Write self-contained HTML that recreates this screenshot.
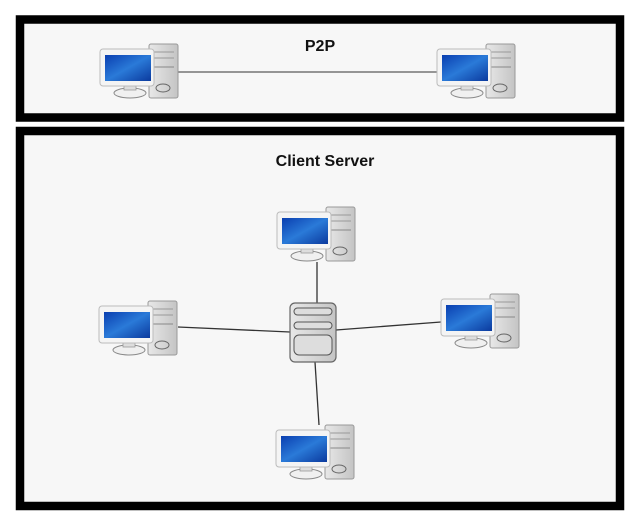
<!DOCTYPE html>
<html><head><style>
html,body{margin:0;padding:0;background:#fff;width:640px;height:526px;overflow:hidden}
</style></head><body>
<svg width="640" height="526" xmlns="http://www.w3.org/2000/svg">
<defs>
<linearGradient id="scr" x1="0" y1="0" x2="1" y2="1">
<stop offset="0" stop-color="#0a3fb0"/><stop offset="0.5" stop-color="#2a7ad8"/><stop offset="1" stop-color="#0b3a9e"/>
</linearGradient>
<linearGradient id="tw" x1="0" y1="0" x2="1" y2="0">
<stop offset="0" stop-color="#e8e8e8"/><stop offset="1" stop-color="#c4c4c4"/>
</linearGradient>
<g id="pc">
<rect x="49" y="0" width="29" height="54" rx="2" fill="url(#tw)" stroke="#999" stroke-width="1"/>
<line x1="53" y1="8" x2="74" y2="8" stroke="#999"/>
<line x1="53" y1="14" x2="74" y2="14" stroke="#999"/>
<line x1="53" y1="23" x2="74" y2="23" stroke="#888"/>
<ellipse cx="63" cy="44" rx="7" ry="4" fill="none" stroke="#666"/>
<ellipse cx="30" cy="49" rx="16" ry="5" fill="#f0f0f0" stroke="#888"/>
<rect x="24" y="40" width="12" height="6" fill="#ddd" stroke="#999" stroke-width="0.8"/>
<rect x="0" y="5" width="54" height="37" rx="3" fill="#f4f4f4" stroke="#bbb"/>
<rect x="5" y="11" width="46" height="26" fill="url(#scr)"/>
</g>
</defs>
<rect x="0" y="0" width="640" height="526" fill="#fff"/>
<rect x="20" y="19.5" width="600" height="98" fill="#f7f7f7" stroke="#000" stroke-width="8.5"/>
<rect x="20" y="131" width="600" height="375" fill="#f7f7f7" stroke="#000" stroke-width="8.5"/>
<text x="320" y="51" text-anchor="middle" font-family="Liberation Sans, sans-serif" font-size="16" font-weight="bold" fill="#111">P2P</text>
<text x="325" y="166" text-anchor="middle" font-family="Liberation Sans, sans-serif" font-size="16" font-weight="bold" fill="#111">Client Server</text>
<line x1="178" y1="72" x2="437" y2="72" stroke="#333" stroke-width="1"/>
<line x1="317" y1="262" x2="317" y2="303" stroke="#333" stroke-width="1.3"/>
<line x1="178" y1="327" x2="290" y2="332" stroke="#333" stroke-width="1.3"/>
<line x1="336" y1="330" x2="441" y2="322" stroke="#333" stroke-width="1.3"/>
<line x1="315" y1="362" x2="319" y2="425" stroke="#333" stroke-width="1.3"/>
<use href="#pc" x="100" y="44"/>
<use href="#pc" x="437" y="44"/>
<use href="#pc" x="277" y="207"/>
<use href="#pc" x="99" y="301"/>
<use href="#pc" x="441" y="294"/>
<use href="#pc" x="276" y="425"/>
<g>
<rect x="290" y="303" width="46" height="59" rx="5" fill="url(#tw)" stroke="#666" stroke-width="1.2"/>
<rect x="294" y="308" width="38" height="7" rx="3.5" fill="#ddd" stroke="#555"/>
<rect x="294" y="322" width="38" height="7" rx="3.5" fill="#ddd" stroke="#555"/>
<rect x="294" y="335" width="38" height="20" rx="5" fill="#ddd" stroke="#555"/>
</g>
</svg>
</body></html>
